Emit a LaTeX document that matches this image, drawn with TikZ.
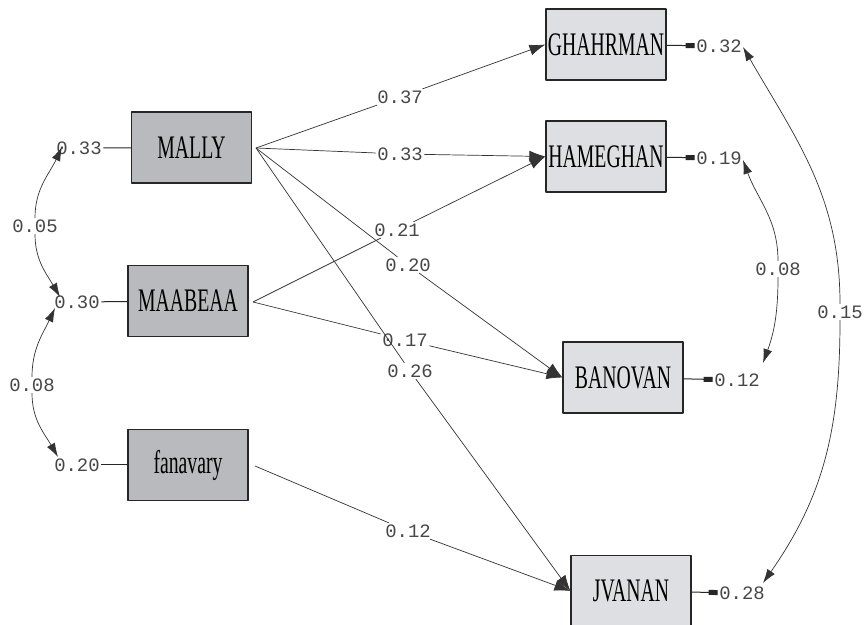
\documentclass[tikz,border=0pt]{standalone}
\usepackage{graphicx}
\usepackage{fontspec}
\setmonofont{Liberation Mono}
\newfontfamily\boxfont{Liberation Serif}
\usetikzlibrary{arrows.meta}

\definecolor{exofill}{RGB}{185,186,190}
\definecolor{endofill}{RGB}{222,223,226}
\newcommand{\vname}[1]{\scalebox{0.6}[1]{#1}}

\tikzset{
  exo/.style={draw=black!85,line width=1.2bp,fill=exofill,minimum width=120bp,
    minimum height=71bp,inner sep=0pt,font=\boxfont\fontsize{33}{33}\selectfont},
  endo/.style={exo,fill=endofill},
  coef/.style={inner sep=1.5bp,text=black!72,font=\ttfamily\fontsize{19}{19}\selectfont},
  link/.style={draw=black!80,line width=0.7bp},
  effect/.style={link,-{Latex[length=16bp,width=11bp]}},
  cov/.style={link,-{Latex[length=14bp,width=9bp]}},
  errline/.style={draw=black!85,line width=1bp},
  err/.style={errline,{Rectangle[length=9bp,width=5bp]}-},
}

\begin{document}
\begin{tikzpicture}[>=latex,line join=bevel]
  \fill[white] (0bp,0bp) rectangle (867bp,625bp);
  \useasboundingbox (0bp,0bp) rectangle (867bp,625bp);
%%
  % Node: exogenous
  \node[exo] (MALLY) at (191.5bp,477.5bp) {\vname{MALLY}};
  \node[exo] (MAABEAA) at (188bp,324bp) {\vname{MAABEAA}};
  \node[exo] (fanavary) at (188bp,160bp) {\vname{fanavary}};
  % Node: endogenous
  \node[endo] (GHAHRMAN) at (606bp,580.5bp) {\vname{GHAHRMAN}};
  \node[endo] (HAMEGHAN) at (606bp,468.5bp) {\vname{HAMEGHAN}};
  \node[endo] (BANOVAN) at (623bp,247.5bp) {\vname{BANOVAN}};
  \node[endo] (JVANAN) at (631bp,34bp) {\vname{JVANAN}};
  % Outlets
  \coordinate (MALLYo) at (256bp,477bp);
  \coordinate (MAABEAAo) at (253bp,323bp);
  \coordinate (fanavaryo) at (255bp,159bp);
  % Coefficients
  \node[coef] (l37) at (400bp,528bp) {0.37};
  \node[coef] (l33) at (400bp,471bp) {0.33};
  \node[coef] (l21) at (397bp,395bp) {0.21};
  \node[coef] (l20) at (408bp,360bp) {0.20};
  \node[coef] (l17) at (405bp,285bp) {0.17};
  \node[coef] (l26) at (410bp,254bp) {0.26};
  \node[coef] (l12) at (408bp,94bp) {0.12};
  % Edge: MALLY -> GHAHRMAN
  \draw[link] (MALLYo) -- (l37);
  \draw[effect] (l37) -- (GHAHRMAN.west);
  % Edge: MALLY -> HAMEGHAN
  \draw[link] (MALLYo) -- (l33);
  \draw[effect] (l33) -- (HAMEGHAN.west);
  % Edge: MALLY -> BANOVAN
  \draw[link] (MALLYo) -- (l20);
  \draw[effect] (l20) -- (BANOVAN.west);
  % Edge: MALLY -> JVANAN
  \draw[link] (MALLYo) -- (l26);
  \draw[effect] (l26) -- (JVANAN.west);
  % Edge: MAABEAA -> HAMEGHAN
  \draw[link] (MAABEAAo) -- (l21);
  \draw[effect] (l21) -- (HAMEGHAN.west);
  % Edge: MAABEAA -> BANOVAN
  \draw[link] (MAABEAAo) -- (l17);
  \draw[effect] (l17) -- (BANOVAN.west);
  % Edge: fanavary -> JVANAN
  \draw[link] (fanavaryo) -- (l12);
  \draw[effect] (l12) -- (JVANAN.west);
  % Errors
  \node[coef] (e1) at (79bp,477bp) {0.33};
  \node[coef] (e2) at (77bp,323bp) {0.30};
  \node[coef] (e3) at (77bp,160bp) {0.20};
  \node[coef] (e4) at (719bp,579bp) {0.32};
  \node[coef] (e5) at (719bp,467bp) {0.19};
  \node[coef] (e6) at (737bp,245bp) {0.12};
  \node[coef] (e7) at (742bp,32bp) {0.28};
  \draw[errline] (e1) -- (MALLY);
  \draw[errline] (e2) -- (MAABEAA);
  \draw[errline] (e3) -- (fanavary);
  \draw[err] (e4) -- (GHAHRMAN);
  \draw[err] (e5) -- (HAMEGHAN);
  \draw[err] (e6) -- (BANOVAN);
  \draw[err] (e7) -- (JVANAN);
  % Covariances
  \node[coef] (c05) at (35bp,399bp) {0.05};
  \node[coef] (c08a) at (32bp,240bp) {0.08};
  \node[coef] (c08b) at (778bp,356bp) {0.08};
  \node[coef] (c15) at (840bp,313bp) {0.15};
  \coordinate (t1) at (62bp,478bp);
  \coordinate (t2) at (60bp,328bp);
  \coordinate (t3) at (55bp,317bp);
  \coordinate (t4) at (58bp,168bp);
  \coordinate (t5) at (743bp,578bp);
  \coordinate (t6) at (763bp,262bp);
  \coordinate (t7) at (743bp,465bp);
  \coordinate (t8) at (763bp,42bp);
  \draw[cov] (c05) to[out=90,in=245] (t1);
  \draw[cov] (c05) to[out=-90,in=120] (t2);
  \draw[cov] (c08a) to[out=90,in=245] (t3);
  \draw[cov] (c08a) to[out=-90,in=120] (t4);
  \draw[cov] (c08b) to[out=90,in=-70] (t7);
  \draw[cov] (c08b) to[out=-90,in=70] (t6);
  \draw[cov] (c15) to[out=90,in=-60] (t5);
  \draw[cov] (c15) to[out=-90,in=55] (t8);
%
\end{tikzpicture}
\end{document}
